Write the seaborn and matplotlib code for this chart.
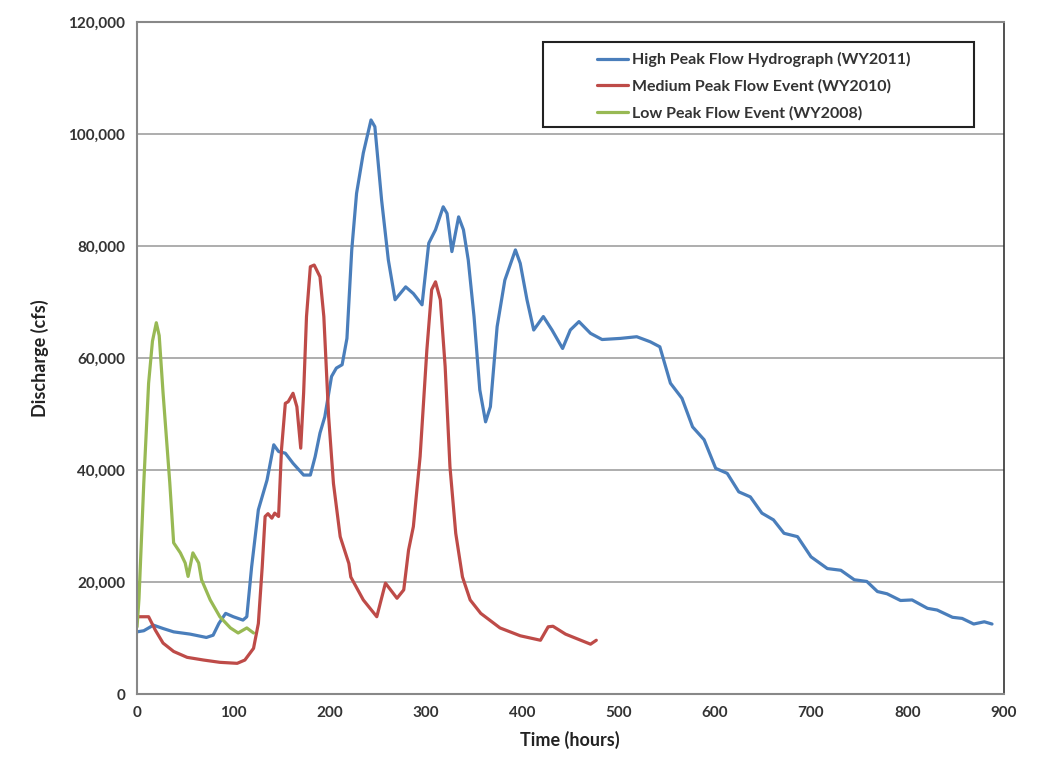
import numpy as np
import pandas as pd
import matplotlib
matplotlib.use("Agg")
import matplotlib.pyplot as plt
import seaborn as sns
from matplotlib.patches import Rectangle
from matplotlib.ticker import FuncFormatter

# High peak flow hydrograph (WY2011)
high_hours = [0, 7, 17, 27, 38, 55, 72, 79, 85, 92, 100, 110, 114, 119, 126, 135, 142, 147, 154,
              162, 173, 180, 185, 190, 195, 202, 207, 213, 218, 223, 228, 235, 243, 247, 254, 261,
              268, 279, 287, 296, 303, 310, 318, 322, 327, 334, 339, 344, 350, 356, 362, 367, 374,
              382, 393, 398, 405, 412, 422, 431, 442, 450, 459, 471, 483, 502, 519, 533, 543, 554,
              566, 577, 589, 601, 613, 625, 637, 649, 661, 672, 686, 700, 717, 731, 745, 758, 769,
              779, 793, 805, 821, 831, 847, 857, 869, 880, 888]
high_cfs = [11100, 11300, 12300, 11700, 11100, 10700, 10100, 10500, 12600, 14400, 13800, 13200,
            13800, 22700, 32900, 38200, 44500, 43300, 43000, 41200, 39100, 39100, 42400, 46600,
            49500, 56700, 58200, 58800, 63500, 79300, 89400, 96600, 102500, 101300, 88200, 77500,
            70400, 72700, 71500, 69500, 80500, 82900, 87000, 85800, 79000, 85200, 82900, 77500,
            67400, 54300, 48600, 51300, 65600, 73900, 79300, 76900, 70400, 65000, 67400, 65000,
            61700, 65000, 66500, 64400, 63300, 63500, 63800, 62900, 62000, 55500, 52800, 47700,
            45400, 40300, 39400, 36100, 35200, 32300, 31100, 28700, 28100, 24500, 22400, 22100,
            20400, 20100, 18300, 17900, 16700, 16800, 15300, 15000, 13700, 13500, 12500, 12900,
            12500]

# Medium peak flow event (WY2010)
med_hours = [0, 12, 19, 27, 38, 52, 69, 86, 104, 112, 121, 126, 130, 133, 136, 140, 143, 147, 150,
             154, 157, 162, 166, 170, 173, 176, 180, 184, 190, 194, 199, 204, 211, 220, 222, 235,
             249, 258, 270, 277, 282, 287, 294, 301, 306, 310, 315, 320, 325, 331, 338, 346, 357,
             377, 398, 419, 427, 432, 445, 471, 477]
med_cfs = [13800, 13800, 11400, 9100, 7600, 6550, 6070, 5660, 5480, 6070, 8160, 12600, 22700,
           31700, 32200, 31400, 32300, 31700, 43600, 51900, 52200, 53700, 51300, 43900, 53700,
           67400, 76300, 76600, 74500, 67400, 49500, 37600, 28100, 23300, 20900, 16800, 13800,
           19800, 17100, 18600, 25700, 29900, 42400, 61400, 72200, 73600, 70400, 58500, 40600,
           28700, 20900, 16800, 14400, 11800, 10400, 9600, 12000, 12100, 10700, 8900, 9600]

# Low peak flow event (WY2008)
low_hours = [0, 2, 7, 12, 16, 20, 23, 27, 34, 38, 45, 50, 53, 58, 64, 67, 76, 86, 97, 105, 114, 121]
low_cfs = [12000, 17000, 37700, 55500, 63000, 66300, 64000, 53800, 37700, 27000, 25200, 23400,
           21000, 25200, 23400, 20400, 16800, 13800, 11800, 10900, 11800, 10900]

labels = ["High Peak Flow Hydrograph (WY2011)",
          "Medium Peak Flow Event (WY2010)",
          "Low Peak Flow Event (WY2008)"]
colors = ["#4a7ebb", "#be4b48", "#98b954"]

df = pd.concat([
    pd.DataFrame({"hours": high_hours, "cfs": high_cfs, "series": labels[0]}),
    pd.DataFrame({"hours": med_hours, "cfs": med_cfs, "series": labels[1]}),
    pd.DataFrame({"hours": low_hours, "cfs": low_cfs, "series": labels[2]}),
])

sns.set_style("white")
plt.rcParams["font.family"] = ["Lato", "DejaVu Sans"]

fig = plt.figure(figsize=(10.47, 7.63), dpi=100)
ax = fig.add_axes([0.1309, 0.0904, 0.8276, 0.8808])

sns.lineplot(data=df, x="hours", y="cfs", hue="series", hue_order=labels,
             palette=colors, estimator=None, sort=False, linewidth=2.3, ax=ax)

ax.set_xlim(0, 900)
ax.set_ylim(0, 120000)
ax.set_xticks(range(0, 901, 100))
ax.set_yticks(range(0, 120001, 20000))
ax.yaxis.set_major_formatter(FuncFormatter(lambda v, p: f"{int(v):,}"))
ax.grid(axis="y", color="#a0a0a0", linewidth=1.2)
ax.set_axisbelow(True)
for side in ["left", "bottom", "top"]:
    ax.spines[side].set_color("#888888")
    ax.spines[side].set_linewidth(1.5)
ax.spines["right"].set_color("#333333")
ax.spines["right"].set_linewidth(1.2)
ax.tick_params(axis="both", direction="out", length=5, color="#888888",
               labelsize=11, labelcolor="#333333")
for t in ax.get_xticklabels() + ax.get_yticklabels():
    t.set_fontweight("bold")

ax.set_xlabel("Time (hours)", fontsize=13, fontweight="bold", color="#222222", labelpad=8)
ax.set_ylabel("Discharge (cfs)", fontsize=13, fontweight="bold", color="#222222", labelpad=14)

# legend box drawn separately so it can be wider than its content
ax.add_patch(Rectangle((0.4688, 0.8438), 0.4966, 0.1264, transform=ax.transAxes,
                       facecolor="white", edgecolor="#222222", linewidth=1.5, zorder=4))
sns.move_legend(ax, "upper left", bbox_to_anchor=(0.531, 0.955), title=None,
                frameon=False, fontsize=11.5, handlelength=1.9, handletextpad=0.3,
                borderpad=0, labelspacing=0.75, borderaxespad=0)
leg = ax.get_legend()
leg.set_zorder(5)
for t in leg.get_texts():
    t.set_fontweight("bold")
    t.set_color("#333333")
for line in leg.get_lines():
    line.set_linewidth(2.3)

fig.savefig("out.png", dpi=100)
